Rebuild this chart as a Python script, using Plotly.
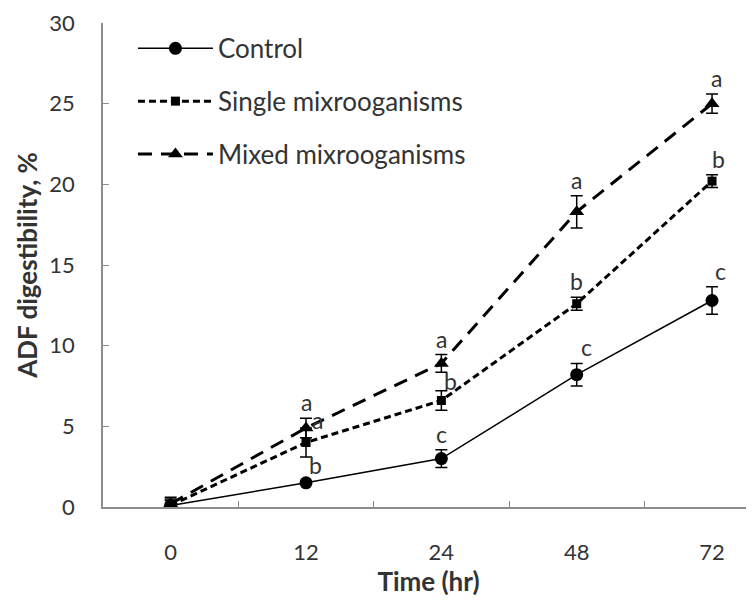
import plotly.graph_objects as go

time_labels = ["0", "12", "24", "48", "72"]

control = [0.1, 1.5, 3.0, 8.2, 12.8]
control_err = [0.5, 0.1, 0.55, 0.7, 0.85]
control_letters = ["", "b", "c", "c", "c"]

single = [0.1, 4.0, 6.6, 12.6, 20.2]
single_err = [0.3, 0.9, 0.6, 0.4, 0.4]
single_letters = ["", "a", "b", "b", "b"]

mixed = [0.2, 4.9, 8.9, 18.3, 25.0]
mixed_err = [0.3, 0.6, 0.55, 1.0, 0.6]
mixed_letters = ["", "a", "a", "a", "a"]

FONT = "Lato, Open Sans, sans-serif"
TXT = "#333333"
FS = 23
FK = 22
FT = 26

fig = go.Figure()

def add_series(name, vals, errs, dash, width, symbol, size, group):
    fig.add_trace(go.Scatter(
        x=time_labels, y=vals, name=name, mode="lines+markers",
        line=dict(color="black", width=width, dash=dash),
        marker=dict(symbol=symbol, size=size, color="black"),
        error_y=dict(type="data", array=errs, visible=True, color="black",
                     thickness=1.5, width=6),
        legendgroup=group,
    ))

add_series("Control", control, control_err, "solid", 1.5, "circle", 13, "g1")
add_series("Single mixrooganisms", single, single_err, "7px,4px", 3, "square", 9, "g2")
add_series("Mixed mixrooganisms", mixed, mixed_err, "14px,9px", 3, "triangle-up", 13, "g3")

annotations = []
def add_letters(vals, errs, letters, xshifts, yshifts):
    for i, (v, e, t) in enumerate(zip(vals, errs, letters)):
        if not t:
            continue
        annotations.append(dict(
            x=i, y=v + e, xref="x", yref="y", text=t,
            showarrow=False, yanchor="bottom", yshift=yshifts[i], xshift=xshifts[i],
            font=dict(family=FONT, size=FS, color=TXT)))

add_letters(mixed, mixed_err, mixed_letters, [0, 0, 0, 0, 4], [0, 0, 0, 0, 0])
add_letters(single, single_err, single_letters, [0, 11, 9, 0, 6], [0, -8, -6, 0, 0])
add_letters(control, control_err, control_letters, [0, 9, 0, 10, 8], [0, 0, 0, 0, 0])

# The page body has an 8px margin, so the figure is drawn 8px smaller
fig.update_layout(
    width=746, height=595,
    margin=dict(l=95, r=0, t=15, b=96, autoexpand=False),
    paper_bgcolor="white", plot_bgcolor="white",
    font=dict(family=FONT, size=FS, color=TXT),
    showlegend=True,
    legend=dict(x=0.046, y=0.996, xanchor="left", yanchor="top",
                bgcolor="rgba(0,0,0,0)", tracegroupgap=16,
                itemwidth=75, font=dict(size=FT, color=TXT)),
    annotations=annotations,
    xaxis=dict(
        type="category", range=[-0.5, 4.31], showline=True,
        linecolor="#8c8c8c", linewidth=1.5, ticks="inside", ticklen=6,
        tickcolor="#8c8c8c", tickson="boundaries", showgrid=False,
        zeroline=False, ticklabelstandoff=25, automargin=False,
        ticklabeloverflow="allow",
        title=dict(text="<b>Time (hr)</b>", standoff=6,
                   font=dict(size=FT, color=TXT)),
        tickfont=dict(size=FK, color=TXT),
    ),
    yaxis=dict(
        range=[0, 30], dtick=5, showline=True, linecolor="#8c8c8c",
        linewidth=1.5, ticks="inside", ticklen=6, tickcolor="#8c8c8c",
        showgrid=False, zeroline=False, ticklabelstandoff=22, automargin=False,
        ticklabeloverflow="allow",
        title=dict(text="<b>ADF digestibility, %</b>", standoff=4,
                   font=dict(size=FT, color=TXT)),
        tickfont=dict(size=FK, color=TXT),
    ),
)

fig.write_html("out.html")
